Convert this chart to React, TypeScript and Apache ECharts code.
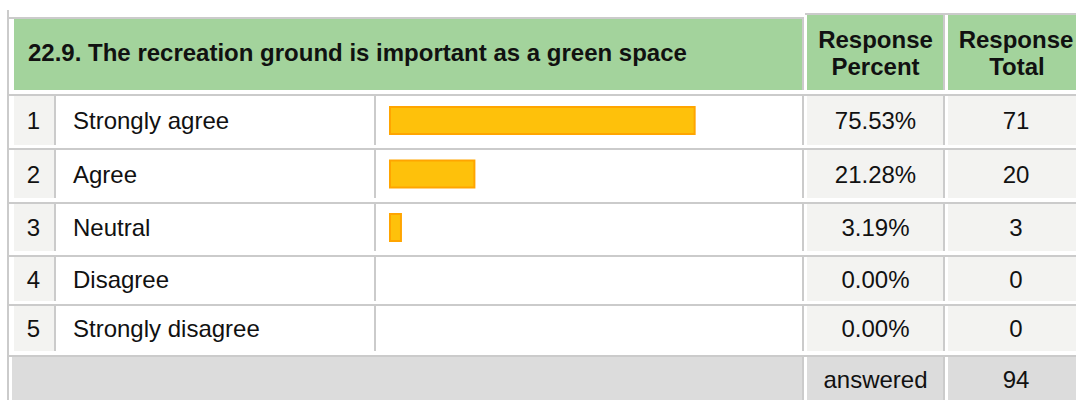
import React, { useEffect, useRef } from "react";
import * as echarts from "echarts";

// ---- data ----
const QUESTION = "22.9. The recreation ground is important as a green space";
const HEADER_PERCENT = ["Response", "Percent"];
const HEADER_TOTAL = ["Response", "Total"];
const ROW_NUMBERS = ["1", "2", "3", "4", "5"];
const CATEGORIES = ["Strongly agree", "Agree", "Neutral", "Disagree", "Strongly disagree"];
const PERCENTS = [75.53, 21.28, 3.19, 0, 0];
const TOTALS = [71, 20, 3, 0, 0];
const FOOTER_LABEL = "answered";
const ANSWERED = 94;

// ---- layout ----
const W = 1076;
const H = 400;
const ROW_TOP = [96, 150, 204, 257, 306];
const ROW_BOTTOM = [145, 198, 251, 301, 351];
const FOOT_TOP = 357;
const FOOT_BOTTOM = 402;
const FONT = "'Liberation Sans', Arial, Helvetica, sans-serif";
const GREEN = "#a3d39c";
const LINE = "#cbcbcb";
const CELL = "#f3f3f1";
const FOOT = "#dcdcdc";
const TEXT = "#111111";

function rect(x: number, y: number, w: number, h: number, fill: string) {
  return { type: "rect", silent: true, shape: { x, y, width: w, height: h }, style: { fill } };
}
function text(x: number, y: number, s: string, align: string, bold = false) {
  return {
    type: "text",
    silent: true,
    x,
    y,
    style: {
      text: s,
      fill: TEXT,
      font: `${bold ? "bold " : ""}24px ${FONT}`,
      align,
      verticalAlign: "middle",
    },
  };
}

export default function App() {
  const ref = useRef<HTMLDivElement>(null);
  useEffect(() => {
    if (!ref.current) return;
    const chart = echarts.init(ref.current, null, { renderer: "svg", width: W, height: H });
    const els: any[] = [];

    // header fills
    els.push(rect(14, 19, 788, 71, GREEN));
    els.push(rect(807, 15, 136, 75, GREEN));
    els.push(rect(948, 15, 140, 75, GREEN));
    // header borders
    els.push(rect(7, 10, 2, H - 10, LINE));
    els.push(rect(7, 17, 797, 2, LINE));
    els.push(rect(805, 13, W - 805, 2, LINE));
    els.push(rect(802, 17, 2, 73, LINE));
    els.push(rect(943, 13, 2, 77, LINE));

    // row cells
    CATEGORIES.forEach((_, i) => {
      const t = ROW_TOP[i];
      const b = ROW_BOTTOM[i];
      const h = b - t;
      els.push(rect(14, t, 40, h, CELL));
      els.push(rect(807, t, 136, h, CELL));
      els.push(rect(948, t, 140, h, CELL));
      els.push(rect(9, t - 2, W - 9, 2, LINE));
      [54, 374, 802, 943].forEach((x) => els.push(rect(x, t - 2, 2, h + 2, LINE)));
    });

    // footer
    els.push(rect(9, FOOT_TOP - 2, W - 9, 2, LINE));
    els.push(rect(12, FOOT_TOP, 790, FOOT_BOTTOM - FOOT_TOP, FOOT));
    els.push(rect(807, FOOT_TOP, 136, FOOT_BOTTOM - FOOT_TOP, FOOT));
    els.push(rect(948, FOOT_TOP, 140, FOOT_BOTTOM - FOOT_TOP, FOOT));
    els.push(rect(802, FOOT_TOP - 2, 2, H, LINE));
    els.push(rect(943, FOOT_TOP - 2, 2, H, LINE));

    // header texts
    els.push(text(28, 52.5, QUESTION, "left", true));
    els.push(text(875.5, 39.5, HEADER_PERCENT[0], "center", true));
    els.push(text(875.5, 66, HEADER_PERCENT[1], "center", true));
    els.push(text(1016, 39.5, HEADER_TOTAL[0], "center", true));
    els.push(text(1017, 66, HEADER_TOTAL[1], "center", true));

    // row texts
    CATEGORIES.forEach((c, i) => {
      const cy = (ROW_TOP[i] + ROW_BOTTOM[i]) / 2;
      els.push(text(33.5, cy, ROW_NUMBERS[i], "center"));
      els.push(text(73, cy, c, "left"));
      els.push(text(875.5, cy, PERCENTS[i].toFixed(2) + "%", "center"));
      els.push(text(1016, cy, String(TOTALS[i]), "center"));
    });
    const fy = 379.5;
    els.push(text(875.5, fy, FOOTER_LABEL, "center"));
    els.push(text(1016, fy, String(ANSWERED), "center"));

    chart.setOption({
      animation: false,
      backgroundColor: "#ffffff",
      grid: { left: 389, top: 93.75, width: 406, height: 267.5, containLabel: false },
      xAxis: { type: "value", min: 0, max: 100, show: false },
      yAxis: { type: "category", data: CATEGORIES, inverse: true, show: false },
      graphic: { elements: els },
      series: [
        {
          type: "bar",
          barWidth: 29,
          z: 10,
          data: PERCENTS.map((v) => ({
            value: v,
            itemStyle: v > 0 ? { color: "#fec10b", borderColor: "#ffa500", borderWidth: 2 } : { borderWidth: 0, opacity: 0 },
          })),
        },
      ],
    });
    return () => chart.dispose();
  }, []);
  return <div ref={ref} style={{ position: "fixed", left: 0, top: 0, width: W, height: H }} />;
}
